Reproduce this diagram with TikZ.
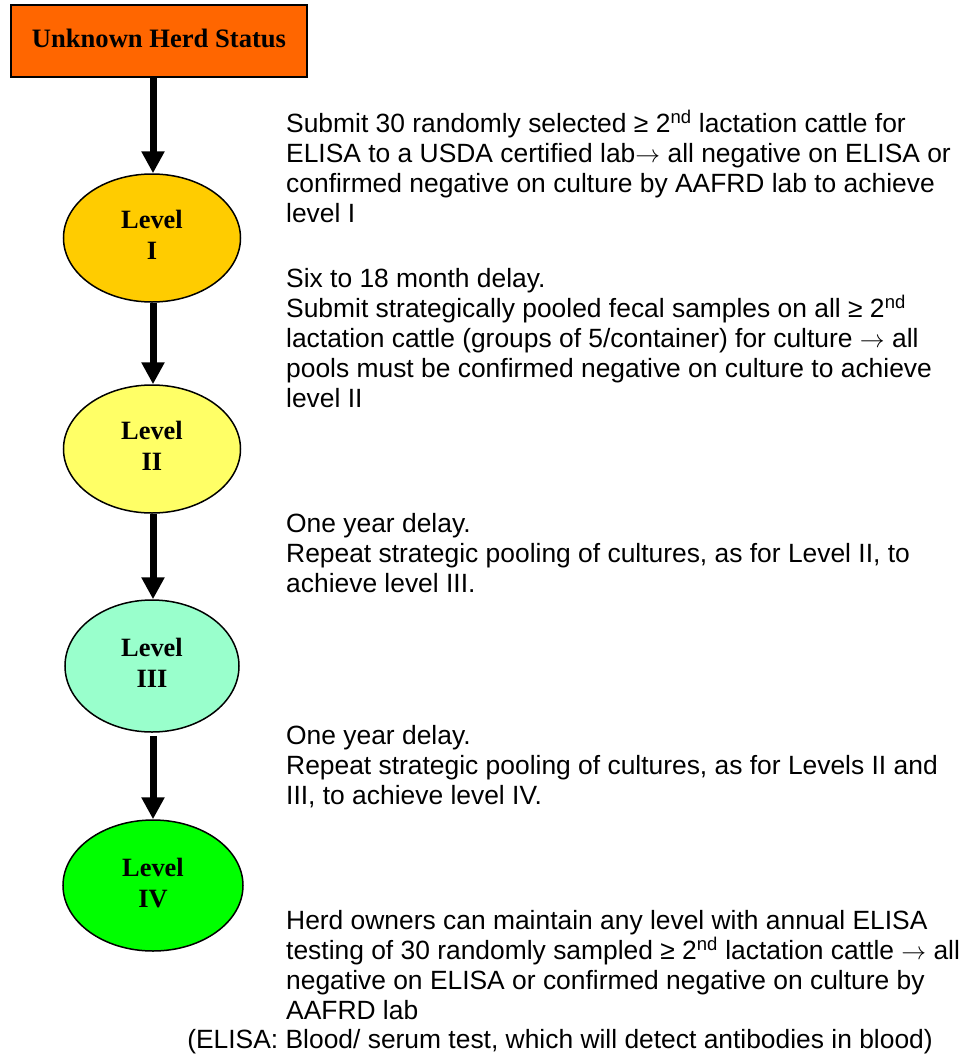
\documentclass[tikz,border=0pt]{standalone}
\usepackage{fontspec}
\setmainfont{Liberation Serif}
\newfontfamily\arialfont{Liberation Sans}
\usetikzlibrary{arrows.meta,shapes.geometric}
\definecolor{herdorange}{HTML}{FF6600}
\definecolor{levelone}{HTML}{FFCC00}
\definecolor{leveltwo}{HTML}{FFFF66}
\definecolor{levelthree}{HTML}{99FFCC}
\definecolor{levelfour}{HTML}{00FF00}
\newcommand{\levtext}[1]{\raisebox{4bp}{\begin{tabular}{@{}c@{}}Level\\#1\end{tabular}}}
\begin{document}
\begin{tikzpicture}[x=1bp,y=-1bp,
  levelnode/.style={ellipse, draw=black, line width=1.5bp, inner sep=0pt,
    font=\bfseries\fontsize{26.5}{31}\selectfont},
  flowarrow/.style={line width=7bp, -{Triangle[width=22bp,length=22bp]}},
  desc/.style={anchor=base west, align=left, inner sep=0pt,
    font=\arialfont\fontsize{26.5}{30}\selectfont}]
\useasboundingbox (0,0) rectangle (970,1055);

\node[draw=black, line width=1.5bp, fill=herdorange, minimum width=296bp,
  minimum height=72bp, inner sep=0pt, font=\bfseries\fontsize{26.7}{31}\selectfont]
  (start) at (159,41) {\raisebox{5bp}{Unknown Herd Status}};

\node[levelnode, fill=levelone, minimum width=177bp, minimum height=128bp]
  (l1) at (152,238) {\levtext{I}};
\node[levelnode, fill=leveltwo, minimum width=177bp, minimum height=128bp]
  (l2) at (152,449) {\levtext{II}};
\node[levelnode, fill=levelthree, minimum width=174bp, minimum height=132bp]
  (l3) at (152,666) {\levtext{III}};
\node[levelnode, fill=levelfour, minimum width=180bp, minimum height=131bp]
  (l4) at (153,885.5) {\levtext{IV}};

\draw[flowarrow] ([xshift=1bp]l1.north |- start.south) -- ([xshift=1bp]l1.north);
\draw[flowarrow] ([xshift=1bp]l1.south) -- ([xshift=1bp]l2.north);
\draw[flowarrow] ([xshift=1bp]l2.south) -- ([xshift=1bp]l3.north);
\draw[flowarrow] ([yshift=-3bp]l4.north |- l3.south) -- (l4.north);

\node[desc] (p1) at (286,222) {Submit 30 randomly selected ≥ 2\textsuperscript{nd} lactation cattle for\\
ELISA to a USDA certified lab$\rightarrow$ all negative on ELISA or\\
confirmed negative on culture by AAFRD lab to achieve\\
level I};
\node[desc] (p2) at (286,407) {Six to 18 month delay.\\
Submit strategically pooled fecal samples on all ≥ 2\textsuperscript{nd}\\
lactation cattle (groups of 5/container) for culture $\rightarrow$ all\\
pools must be confirmed negative on culture to achieve\\
level II};
\node[desc] (p3) at (286,592) {One year delay.\\
Repeat strategic pooling of cultures, as for Level II, to\\
achieve level III.};
\node[desc] (p4) at (286,804) {One year delay.\\
Repeat strategic pooling of cultures, as for Levels II and\\
III, to achieve level IV.};
\node[desc] (p5) at (286,1019) {Herd owners can maintain any level with annual ELISA\\
testing of 30 randomly sampled ≥ 2\textsuperscript{nd} lactation cattle $\rightarrow$ all\\
negative on ELISA or confirmed negative on culture by\\
AAFRD lab};
\node[desc, anchor=base east] (note) at (933,1048) {(ELISA: Blood/ serum test, which will detect antibodies in blood)};
\end{tikzpicture}
\end{document}
